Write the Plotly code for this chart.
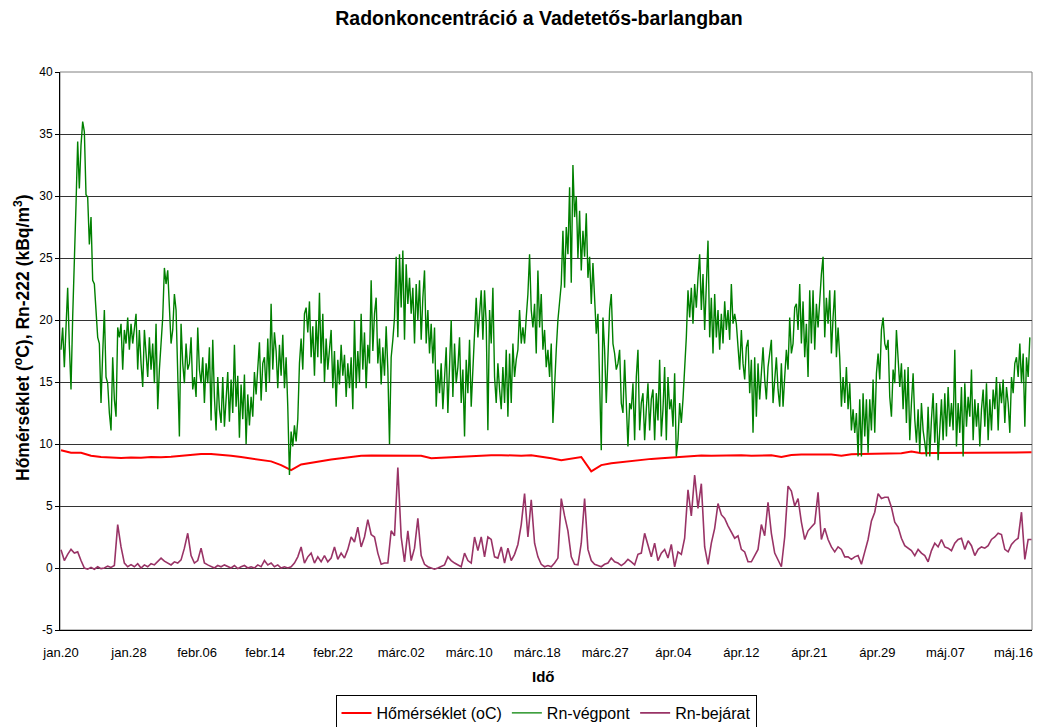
import plotly.graph_objects as go

tick_labels = ["jan.20", "jan.28", "febr.06", "febr.14", "febr.22", "márc.02", "márc.10",
               "márc.18", "márc.27", "ápr.04", "ápr.12", "ápr.21", "ápr.29", "máj.07", "máj.16"]
y_ticks = [-5, 0, 5, 10, 15, 20, 25, 30, 35, 40]

# Rn-végpont (kBq/m3), fine sampling
rn_vegpont = [
    # segment 1
    17.6, 19.4, 16.2, 19.8, 22.6, 18.0, 14.4, 20.2, 24.2, 29.3,
    34.4, 30.6, 34.1, 36.0, 35.2, 30.1, 29.9, 26.1, 28.3, 23.2,
    22.9, 20.8, 18.6, 18.1, 13.3, 17.3, 20.8, 15.4, 14.9, 12.5,
    11.1, 17.0, 13.6, 12.2, 19.4, 18.6, 19.7, 16.0, 19.2, 18.1,
    20.2, 17.6, 19.7, 18.1, 19.2, 20.5, 16.0, 19.2, 16.5, 14.6,
    19.2, 16.8, 15.4, 18.6, 16.0, 18.1, 14.9, 19.7, 12.8, 16.0,
    18.4, 20.2, 24.2, 22.9, 24.0, 20.8, 18.1, 19.2, 22.1, 20.8,
    16.5, 10.6, 19.7, 16.5, 14.9, 18.1, 16.0, 16.5, 18.6, 14.4,
    15.4, 13.8, 19.4, 16.0, 14.9, 17.0, 13.3, 16.5, 14.9, 17.8,
    11.9, 18.4, 13.8, 11.1, 15.4, 12.8, 11.7, 15.4, 11.4,
    # segment 2
    13.5, 15.8, 11.8, 15.2, 12.5, 18.0, 13.0, 15.5, 10.5, 14.8,
    12.0, 15.6, 10.0, 14.0, 11.5, 13.8, 12.2, 15.8, 14.0, 16.2,
    18.2, 13.5, 16.5, 17.0, 14.2, 18.5, 15.0, 21.3, 16.0, 19.0,
    17.5, 14.5, 18.0, 15.5, 18.8, 14.5, 17.0, 13.0, 7.5, 11.0,
    9.8, 11.5, 10.2, 12.0, 16.5, 18.5, 16.0, 20.5, 21.0, 19.0,
    21.5, 17.0, 19.5, 15.5, 20.0, 17.0, 22.2, 16.5, 20.5, 15.0,
    18.5, 16.0, 17.5, 19.2, 14.5, 17.5, 13.0, 16.8, 14.8, 18.0,
    15.5, 17.2, 13.8, 16.5, 14.5, 17.0, 12.8, 20.0, 14.5, 17.5,
    15.0, 20.5, 16.0, 19.0, 14.5, 18.0, 16.5, 23.2, 17.5, 20.5,
    21.8, 16.5, 18.5, 14.8, 17.8, 15.5, 19.5, 16.0, 10.0,
    # segment 3
    17.0, 18.4, 20.2, 25.1, 18.6, 25.3, 21.0, 25.6, 18.4, 24.5,
    21.3, 23.4, 20.5, 22.6, 18.1, 22.9, 20.0, 23.2, 18.4, 21.8,
    24.0, 18.1, 20.8, 17.3, 19.7, 16.5, 19.4, 13.0, 16.0, 14.1,
    16.5, 12.8, 15.4, 17.8, 12.5, 16.0, 20.0, 13.8, 18.1, 14.9,
    16.2, 18.6, 13.3, 16.0, 10.6, 16.8, 14.1, 18.4, 13.0, 16.0,
    19.4, 21.8, 18.6, 20.2, 22.4, 18.4, 22.4, 19.7, 11.1, 20.8,
    18.1, 22.6, 15.4, 13.3, 16.5, 14.4, 12.8, 16.2, 13.3, 17.6,
    12.2, 17.3, 13.3, 18.1, 15.4, 16.8, 17.6, 20.8, 18.1, 19.4,
    18.1, 20.2, 22.1, 25.3, 20.8, 19.4, 21.3, 17.3, 24.0, 19.4,
    22.1, 17.6, 19.2, 16.2, 17.6, 15.4, 18.1, 11.7, 15.4,
    # segment 4
    17.6, 20.0, 21.3, 22.9, 27.2, 22.6, 27.5, 25.3, 30.7, 23.0,
    32.5, 28.3, 30.0, 25.0, 28.8, 24.0, 27.2, 25.1, 28.6, 23.4,
    25.1, 21.3, 24.6, 21.0, 18.9, 20.5, 14.6, 9.5, 20.2, 17.6,
    13.3, 18.1, 20.8, 22.1, 18.1, 17.3, 16.0, 16.5, 17.6, 13.3,
    12.5, 16.8, 13.8, 9.8, 13.3, 12.8, 14.9, 10.3, 15.4, 17.6,
    11.1, 13.3, 14.1, 10.3, 12.8, 14.9, 11.1, 13.6, 14.4, 10.3,
    14.1, 11.9, 16.8, 10.6, 12.8, 16.2, 10.3, 15.4, 12.8, 13.6,
    11.4, 15.7, 9.0, 10.3, 13.3, 11.7, 13.6, 15.7, 18.6, 22.4,
    20.2, 22.6, 19.7, 22.9, 21.0, 23.4, 25.3, 20.8, 23.7, 19.2,
    22.6, 26.4, 18.6, 21.8, 17.3, 22.1, 18.6, 20.8, 17.6,
    # segment 5
    20.5, 18.1, 21.5, 19.2, 20.8, 18.4, 22.9, 19.7, 20.5, 19.7,
    17.6, 16.0, 19.2, 16.5, 15.2, 17.8, 18.4, 14.1, 16.8, 10.9,
    17.0, 12.2, 16.5, 13.6, 15.7, 17.8, 15.2, 13.6, 16.2, 17.3,
    18.4, 13.3, 15.4, 17.0, 14.4, 13.0, 16.5, 13.0, 15.4, 17.6,
    16.0, 20.2, 17.3, 18.1, 21.0, 21.3, 19.2, 22.9, 18.1, 21.5,
    17.0, 19.7, 15.4, 22.4, 18.1, 22.4, 17.6, 21.3, 19.4, 21.8,
    23.7, 25.1, 18.6, 21.8, 19.7, 22.4, 17.3, 20.2, 22.4, 17.0,
    19.4, 17.0, 13.0, 15.4, 13.3, 16.2, 12.8, 14.9, 11.1, 12.8,
    10.9, 12.5, 9.0, 13.6, 9.0, 14.1, 10.6, 13.6, 9.3, 13.6,
    11.1, 15.2, 10.9, 15.7, 17.3, 15.2, 19.2, 20.2, 18.1,
    # segment 6
    17.6, 18.4, 13.8, 12.2, 16.0, 14.9, 19.2, 16.8, 14.6, 16.5,
    12.8, 16.0, 11.7, 16.2, 10.3, 13.3, 15.7, 12.0, 10.1, 12.8,
    9.3, 13.3, 11.1, 10.1, 9.0, 13.0, 9.0, 12.0, 14.1, 10.1,
    13.3, 8.7, 11.1, 13.6, 10.3, 14.1, 10.6, 14.6, 11.4, 13.3,
    11.1, 17.6, 9.8, 13.3, 10.9, 14.6, 9.0, 14.9, 11.4, 13.8,
    12.2, 16.0, 10.3, 13.6, 11.4, 13.3, 9.8, 12.8, 14.4, 11.4,
    14.9, 10.3, 13.6, 11.1, 14.4, 12.8, 15.4, 11.1, 14.9, 13.3,
    15.2, 11.7, 14.6, 13.3, 10.9, 15.4, 14.1, 16.5, 17.0, 15.4,
    18.1, 14.9, 17.3, 11.4, 17.0, 15.4, 18.6,
]

# Rn-bejárat (kBq/m3), every 2nd sample
rn_bejarat = [
    1.47, 0.6, 1.1, 1.5, 1.2, 1.3, 0.6, 0.0, -0.1, 0.05,
    -0.1, 0.1, -0.05, 0.0, 0.15, 0.05, 0.2, 3.5, 1.7, 0.4,
    0.1, 0.27, 0.1, 0.35, 0.0, 0.25, 0.1, 0.35, 0.25, 0.5,
    0.8, 0.55, 0.4, 0.25, 0.5, 0.4, 0.65, 1.6, 2.8, 1.0,
    0.4, 0.6, 1.6, 0.4, 0.25, 0.1, 0.0, 0.2, 0.1, 0.25,
    0.1, 0.0, 0.2, -0.05, 0.1, 0.2, 0.0, 0.1, 0.0, 0.25,
    0.1, 0.6, 0.25, 0.4, 0.1, 0.25, 0.0, 0.1, 0.0, 0.1,
    0.4, 0.9, 1.7, 0.4, 0.9, 1.2, 0.4, 0.9, 0.5, 1.0,
    0.5, 0.8, 1.7, 0.7, 1.2, 0.8, 1.5, 2.5, 2.1, 3.3,
    1.7, 2.5, 3.9, 2.7, 2.5, 1.2, 0.3, 0.4, 0.4, 3.0,
    2.6, 8.1, 2.5, 0.5, 3.0, 0.6, 1.6, 4.0, 1.0, 0.3,
    0.1, 0.0, -0.1, 0.0, 0.1, 0.25, 0.9, 0.6, 0.4, 0.25,
    0.1, 1.2, 0.6, 0.4, 2.5, 1.4, 2.5, 0.9, 2.5, 2.3,
    0.9, 0.8, 1.7, 0.4, 1.6, 0.6, 1.1, 1.9, 3.5, 6.0,
    2.5, 5.5, 2.0, 0.9, 0.3, 0.1, 0.2, 0.1, 0.4, 0.8,
    5.6, 4.2, 3.0, 0.9, 0.3, 0.25, 2.0, 5.6, 1.5, 0.6,
    0.3, 0.2, 0.1, 0.3, 0.4, 0.8, 0.5, 0.4, 0.2, 0.4,
    0.7, 0.5, 0.25, 1.1, 1.2, 2.8, 1.8, 0.9, 2.0, 0.6,
    1.2, 1.5, 0.8, 1.9, 0.1, 1.3, 1.1, 2.4, 6.3, 4.2,
    7.5, 4.8, 6.8, 1.7, 0.3, 2.0, 3.2, 5.2, 4.3, 4.0,
    3.4, 2.9, 2.4, 2.6, 1.5, 1.3, 0.5, 0.5, 1.0, 1.5,
    3.5, 2.6, 5.3, 2.8, 1.2, 0.7, 0.1, 2.5, 6.6, 6.2,
    5.0, 5.6, 3.7, 2.3, 3.0, 3.3, 3.6, 6.1, 2.3, 3.2,
    2.3, 1.7, 1.3, 1.7, 1.5, 0.9, 0.9, 0.7, 0.9, 1.0,
    0.3, 1.3, 2.3, 3.8, 4.5, 6.0, 5.6, 5.7, 5.7, 4.9,
    3.7, 3.3, 2.4, 1.8, 1.6, 1.4, 1.0, 1.5, 1.2, 1.0,
    0.5, 1.4, 2.0, 1.7, 2.3, 1.7, 1.6, 1.4, 2.0, 2.3,
    2.4, 1.5, 2.2, 1.8, 1.0, 1.5, 1.7, 1.6, 1.8, 2.3,
    2.5, 2.8, 2.7, 1.5, 1.3, 1.9, 2.2, 2.4, 4.5, 0.7,
    2.3, 2.3,
]

# Hőmérséklet (oC), every 6th sample
homerseklet = [
    9.5, 9.3, 9.3, 9.05, 8.95, 8.9, 8.88, 8.92, 8.9, 8.95,
    8.93, 8.98, 9.05, 9.1, 9.2, 9.2, 9.15, 9.05, 8.95, 8.85,
    8.7, 8.6, 8.3, 7.9, 8.35, 8.5, 8.65, 8.75, 8.85, 8.95,
    9.05, 9.07, 9.07, 9.07, 9.1, 9.07, 9.05, 8.85, 8.9, 8.95,
    9.0, 9.05, 9.07, 9.1, 9.1, 9.05, 9.05, 9.1, 9.0, 8.85,
    8.7, 8.8, 8.95, 7.8, 8.3, 8.45, 8.55, 8.65, 8.75, 8.8,
    8.85, 8.9, 9.0, 9.05, 9.07, 9.05, 9.07, 9.1, 9.1, 9.05,
    9.05, 9.1, 8.95, 9.12, 9.15, 9.15, 9.15, 9.15, 9.05, 9.18,
    9.2, 9.2, 9.22, 9.25, 9.25, 9.4, 9.25, 9.27, 9.27, 9.28,
    9.28, 9.3, 9.3, 9.3, 9.32, 9.32, 9.33, 9.33,
]

SAMPLES_PER_TICK = 40.8
x_green = list(range(len(rn_vegpont)))
x_purple = [2 * k for k in range(len(rn_bejarat))]
x_red = [6 * j for j in range(len(homerseklet))]

FONT = "Liberation Sans, Arial, sans-serif"

# the page body adds an 8px offset; the figure is sized for the visible window
W, H = 1034, 719
L, R, T, B = 52, 10, 64, 97
PW, PH = W - L - R, H - T - B

fig = go.Figure()
fig.add_trace(go.Scatter(x=x_red, y=homerseklet, mode="lines", name="Hőmérséklet (oC)",
                         line=dict(color="#FF0000", width=2)))
fig.add_trace(go.Scatter(x=x_green, y=rn_vegpont, mode="lines", name="Rn-végpont",
                         line=dict(color="#008000", width=1.4)))
fig.add_trace(go.Scatter(x=x_purple, y=rn_bejarat, mode="lines", name="Rn-bejárat",
                         line=dict(color="#993366", width=1.6)))

fig.update_layout(
    width=W, height=H,
    margin=dict(l=L, r=R, t=T, b=B, autoexpand=False),
    paper_bgcolor="white", plot_bgcolor="white",
    font=dict(family=FONT, size=12, color="black"),
    showlegend=True,
    legend=dict(orientation="h", xref="container", yref="container",
                x=538 / W, xanchor="center", y=1 - 687 / H, yanchor="top",
                bordercolor="black", borderwidth=1, font=dict(size=16, family=FONT),
                itemwidth=30, tracegroupgap=0),
    title=dict(text="<b>Radonkoncentráció a Vadetetős-barlangban</b>",
               x=531 / W, xanchor="center", xref="container",
               y=1 - 3 / H, yanchor="top", yref="container",
               font=dict(size=19.5, family=FONT, color="black")),
    shapes=[dict(type="rect", xref="paper", yref="paper", x0=0, x1=1, y0=0, y1=1,
                 line=dict(color="#808080", width=1), layer="below")],
    annotations=[
        dict(text="<b>Idő</b>", xref="paper", yref="paper", x=(535 - L) / PW,
             y=-(668 - (T + PH)) / PH, xanchor="center", yanchor="middle", showarrow=False,
             font=dict(size=15, family=FONT)),
        dict(text="<b>Hőmérséklet (<sup>o</sup>C), Rn-222 (kBq/m<sup>3</sup>)</b>",
             xref="paper", yref="paper", x=(14 - L) / PW, y=((T + PH) - 330) / PH,
             xanchor="center", yanchor="middle", textangle=-90, showarrow=False,
             font=dict(size=17.5, family=FONT)),
    ],
)

fig.update_xaxes(range=[-0.6, 582.3], tickmode="array",
                 tickvals=[SAMPLES_PER_TICK * k for k in range(len(tick_labels))],
                 ticktext=tick_labels, showgrid=False, zeroline=False,
                 showline=True, linecolor="black", linewidth=1, ticks="",
                 ticklabelstandoff=10,
                 tickfont=dict(size=13, family=FONT))
fig.update_yaxes(range=[-5, 40], tickmode="array", tickvals=y_ticks,
                 ticktext=[str(v) for v in y_ticks], showgrid=True, gridcolor="#333333",
                 gridwidth=1, zeroline=False, showline=True, linecolor="black",
                 linewidth=1, ticks="outside", ticklen=4, tickcolor="black",
                 tickfont=dict(size=12, family=FONT))

fig.write_html("out.html")
